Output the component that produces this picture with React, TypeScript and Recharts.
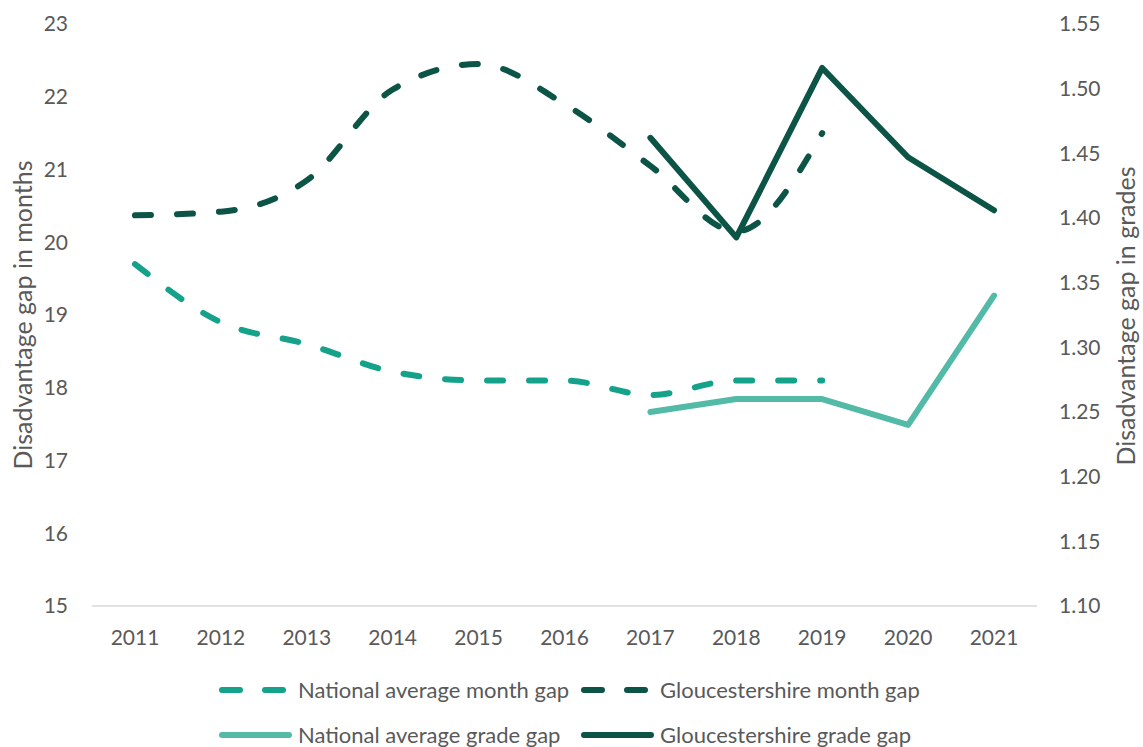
import React from 'react';
import { LineChart, Line, XAxis, YAxis } from 'recharts';

const years = ['2011', '2012', '2013', '2014', '2015', '2016', '2017', '2018', '2019', '2020', '2021'];
const nationalMonthGap = [19.7, 18.9, 18.6, 18.22, 18.1, 18.1, 17.9, 18.1, 18.1, null, null];
const gloucestershireMonthGap = [20.37, 20.42, 20.85, 22.1, 22.45, 21.9, 21.05, 20.15, 21.5, null, null];
const nationalGradeGap = [null, null, null, null, null, null, 1.25, 1.26, 1.26, 1.24, 1.34];
const gloucestershireGradeGap = [null, null, null, null, null, null, 1.462, 1.385, 1.516, 1.447, 1.406];
const monthTicks = [15, 16, 17, 18, 19, 20, 21, 22, 23];
const gradeTicks = [1.1, 1.15, 1.2, 1.25, 1.3, 1.35, 1.4, 1.45, 1.5, 1.55];

const DARK = '#0B5446';
const TEAL = '#14A38A';
const LIGHT = '#52BAA6';
const TEXT = '#595959';
const FONT = 'Lato, "Open Sans", sans-serif';

const series = [
  { key: 'natMonth', name: 'National average month gap', color: TEAL, dashed: true, axis: 'left' },
  { key: 'gloMonth', name: 'Gloucestershire month gap', color: DARK, dashed: true, axis: 'left' },
  { key: 'natGrade', name: 'National average grade gap', color: LIGHT, dashed: false, axis: 'right' },
  { key: 'gloGrade', name: 'Gloucestershire grade gap', color: DARK, dashed: false, axis: 'right' },
];

const data = years.map((year, i) => ({
  year,
  natMonth: nationalMonthGap[i],
  gloMonth: gloucestershireMonthGap[i],
  natGrade: nationalGradeGap[i],
  gloGrade: gloucestershireGradeGap[i],
}));

const tickStyle = { fill: TEXT, fontSize: 21, fontFamily: FONT };

export default function App() {
  return (
    <div style={{ position: 'absolute', left: 0, top: 0, width: 1143, height: 747, background: '#fff', fontFamily: FONT }}>
      <LineChart width={1143} height={747} data={data} margin={{ top: 24, right: 0, bottom: 101, left: 0 }}>
        <XAxis
          dataKey="year"
          height={40}
          interval={0}
          padding={{ left: 43, right: 43 }}
          axisLine={{ stroke: '#d9d9d9', strokeWidth: 1.5 }}
          tickLine={false}
          tickSize={0}
          tickMargin={24}
          tick={tickStyle}
        />
        <YAxis
          yAxisId="left"
          width={92}
          domain={[15, 23]}
          ticks={monthTicks}
          interval={0}
          axisLine={false}
          tickLine={false}
          tickSize={0}
          tickMargin={24}
          tick={tickStyle}
          label={{
            content: () => (
              <text x={32} y={315} transform="rotate(-90 32 315)" textAnchor="middle" fill={TEXT} fontSize={25} fontFamily={FONT}>
                Disadvantage gap in months
              </text>
            ),
          }}
        />
        <YAxis
          yAxisId="right"
          orientation="right"
          width={106}
          domain={[1.1, 1.55]}
          ticks={gradeTicks}
          interval={0}
          tickFormatter={(v: number) => v.toFixed(2)}
          axisLine={false}
          tickLine={false}
          tickSize={0}
          tickMargin={22}
          tick={tickStyle}
          label={{
            content: () => (
              <text x={1135} y={316} transform="rotate(-90 1135 316)" textAnchor="middle" fill={TEXT} fontSize={25} fontFamily={FONT}>
                Disadvantage gap in grades
              </text>
            ),
          }}
        />
        {series.map((s) => (
          <Line
            key={s.key}
            yAxisId={s.axis}
            dataKey={s.key}
            name={s.name}
            type={s.dashed ? 'monotone' : 'linear'}
            stroke={s.color}
            strokeWidth={6}
            strokeDasharray={s.dashed ? '16 26' : undefined}
            strokeLinecap="round"
            strokeLinejoin="round"
            dot={false}
            activeDot={false}
            connectNulls={false}
            isAnimationActive={false}
          />
        ))}
      </LineChart>
      {series.map((s, i) => {
        const col = i % 2;
        const row = Math.floor(i / 2);
        return (
          <div
            key={s.key}
            style={{
              position: 'absolute',
              left: 216 + col * 362,
              top: 675 + row * 45,
              height: 30,
              display: 'flex',
              alignItems: 'center',
              whiteSpace: 'nowrap',
            }}
          >
            <svg width={82} height={30} style={{ display: 'block', flex: 'none' }}>
              {s.dashed ? (
                <line x1={6} y1={15} x2={70} y2={15} stroke={s.color} strokeWidth={6} strokeLinecap="round" strokeDasharray="18 25" />
              ) : (
                <line x1={6} y1={15} x2={73} y2={15} stroke={s.color} strokeWidth={6} strokeLinecap="round" />
              )}
            </svg>
            <span style={{ color: TEXT, fontSize: 22, fontFamily: FONT, lineHeight: '30px' }}>{s.name}</span>
          </div>
        );
      })}
    </div>
  );
}
